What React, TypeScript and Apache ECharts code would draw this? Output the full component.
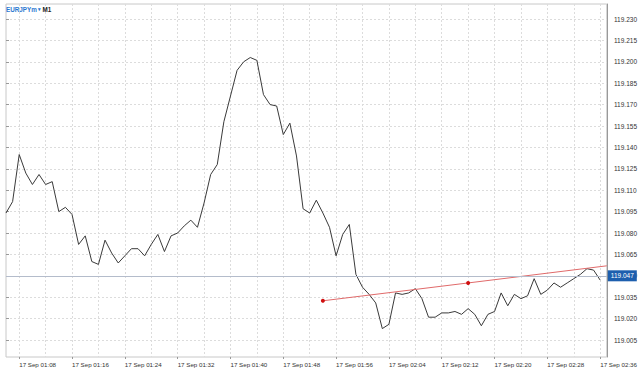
import React, { useEffect, useRef } from "react";
import * as echarts from "echarts";

const symbolName = "EURJPYm";
const timeframe = "M1";
const dateLabel = "17 Sep";
const startMinute = 66; // 01:06
const minuteCount = 92; // 01:06 .. 02:37
const times: string[] = Array.from({ length: minuteCount }, (_, i) => {
  const m = startMinute + i;
  return `${String(Math.floor(m / 60)).padStart(2, "0")}:${String(m % 60).padStart(2, "0")}`;
});

const closes: number[] = [
  119.094, 119.102, 119.135, 119.122, 119.114, 119.121, 119.114, 119.116, 119.095, 119.098,
  119.093, 119.072, 119.078, 119.060, 119.058, 119.075, 119.066, 119.059, 119.064, 119.069,
  119.069, 119.064, 119.072, 119.079, 119.067, 119.078, 119.080, 119.085, 119.089, 119.084,
  119.101, 119.121, 119.128, 119.158, 119.176, 119.194, 119.200, 119.203, 119.201, 119.177,
  119.170, 119.169, 119.149, 119.157, 119.134, 119.097, 119.094, 119.103, 119.094, 119.084,
  119.064, 119.079, 119.086, 119.051, 119.042, 119.037, 119.031, 119.013, 119.016, 119.038,
  119.037, 119.038, 119.041, 119.034, 119.021, 119.021, 119.024, 119.024, 119.025, 119.023,
  119.027, 119.023, 119.015, 119.023, 119.025, 119.038, 119.029, 119.037, 119.034, 119.036,
  119.048, 119.037, 119.040, 119.045, 119.042, 119.045, 119.048, 119.051, 119.055, 119.054,
  119.047,
];

const trendTimes = ["01:54", "02:16", "02:37"];
const trendValues = [119.0325, 119.045, 119.057];
const trendAnchors = [true, true, false];

const bidPrice = 119.047;

const priceTickMin = 119.005;
const priceTickMax = 119.23;
const priceTickStep = 0.015;
const priceViewMin = 118.9931;
const priceViewMax = 119.2405;

export default function App() {
  const ref = useRef<HTMLDivElement>(null);

  useEffect(() => {
    if (!ref.current) return;
    const chart = echarts.init(ref.current, undefined, { renderer: "svg" });

    const trendData: any[] = times.map(() => null);
    trendTimes.forEach((t, k) => {
      const idx = times.indexOf(t);
      trendData[idx] = trendAnchors[k]
        ? { value: trendValues[k] }
        : { value: trendValues[k], symbol: "none" };
    });

    const lineData = times.map((_, i) => (i < closes.length ? closes[i] : null));

    const font = "'Liberation Sans', Arial, sans-serif";

    chart.setOption({
      animation: false,
      backgroundColor: "#ffffff",
      title: {
        text: `{a|${symbolName}}{b| ▾ }{c|${timeframe}}`,
        left: 6,
        top: 6,
        padding: 0,
        textStyle: {
          fontFamily: font,
          fontSize: 6,
          rich: {
            a: { color: "#2a78d0", fontSize: 6.3, fontFamily: font, fontWeight: "bold" },
            b: { color: "#2a78d0", fontSize: 5, fontFamily: font },
            c: { color: "#222", fontSize: 6.3, fontFamily: font, fontWeight: "bold" },
          },
        },
      },
      grid: [
        {
          left: 6,
          right: 27,
          top: 4,
          bottom: 15,
          show: true,
          backgroundColor: "#ffffff",
          borderColor: "#c8c8c8",
          borderWidth: 1,
        },
        {
          left: 6,
          right: 27,
          top: 19,
          bottom: 32,
          show: false,
        },
      ],
      xAxis: [
        {
          type: "category",
          gridIndex: 0,
          data: times,
          boundaryGap: false,
          axisLine: { show: false },
          axisTick: {
            show: true,
            length: 2,
            interval: (i: number) => i >= 2 && (i - 2) % 8 === 0,
            lineStyle: { color: "#999" },
          },
          axisLabel: {
            show: true,
            interval: (i: number) => i >= 2 && (i - 2) % 8 === 0,
            formatter: (v: string) => `${dateLabel} ${v}`,
            align: "left",
            margin: 4,
            fontSize: 6.2,
            color: "#333",
            fontFamily: font,
          },
          splitLine: {
            show: true,
            interval: (i: number) => i >= 2 && (i - 2) % 4 === 0,
            lineStyle: { color: "#dcdcdc", type: [2, 2], width: 1 },
          },
        },
        {
          type: "value",
          gridIndex: 1,
          show: false,
        },
      ],
      yAxis: [
        {
          type: "value",
          gridIndex: 0,
          position: "right",
          min: priceViewMin,
          max: priceViewMax,
          axisLine: { show: true, lineStyle: { color: "#999" } },
          axisTick: { show: false },
          axisLabel: { show: false },
          splitLine: { show: false },
        },
        {
          type: "value",
          gridIndex: 1,
          position: "right",
          min: priceTickMin,
          max: priceTickMax,
          interval: priceTickStep,
          axisLine: { show: false },
          axisTick: { show: true, length: 3, lineStyle: { color: "#999" } },
          axisLabel: {
            show: true,
            margin: 4,
            fontSize: 6.5,
            color: "#333",
            fontFamily: font,
            formatter: (v: number) => v.toFixed(3),
          },
          splitLine: {
            show: true,
            lineStyle: { color: "#dcdcdc", type: [2, 2], width: 1 },
          },
        },
      ],
      series: [
        {
          type: "line",
          xAxisIndex: 0,
          yAxisIndex: 0,
          data: lineData,
          showSymbol: false,
          lineStyle: { color: "#3a3a3a", width: 1 },
          z: 3,
          markLine: {
            silent: true,
            symbol: "none",
            lineStyle: { color: "#b4bccb", width: 1, type: "solid" },
            label: {
              position: "end",
              distance: 1,
              formatter: bidPrice.toFixed(3),
              color: "#ffffff",
              backgroundColor: "#1d5fae",
              padding: [2, 3, 2, 3],
              fontSize: 6.5,
              fontFamily: font,
            },
            data: [{ yAxis: bidPrice }],
          },
        },
        {
          type: "line",
          xAxisIndex: 0,
          yAxisIndex: 0,
          data: trendData,
          connectNulls: true,
          showSymbol: true,
          showAllSymbol: true,
          symbol: "circle",
          symbolSize: 4,
          itemStyle: { color: "#d01010" },
          lineStyle: { color: "#e06a6a", width: 1 },
          z: 4,
        },
      ],
    });

    return () => chart.dispose();
  }, []);

  return (
    <div
      ref={ref}
      style={{ position: "fixed", left: 0, top: 0, width: 640, height: 372 }}
    />
  );
}
